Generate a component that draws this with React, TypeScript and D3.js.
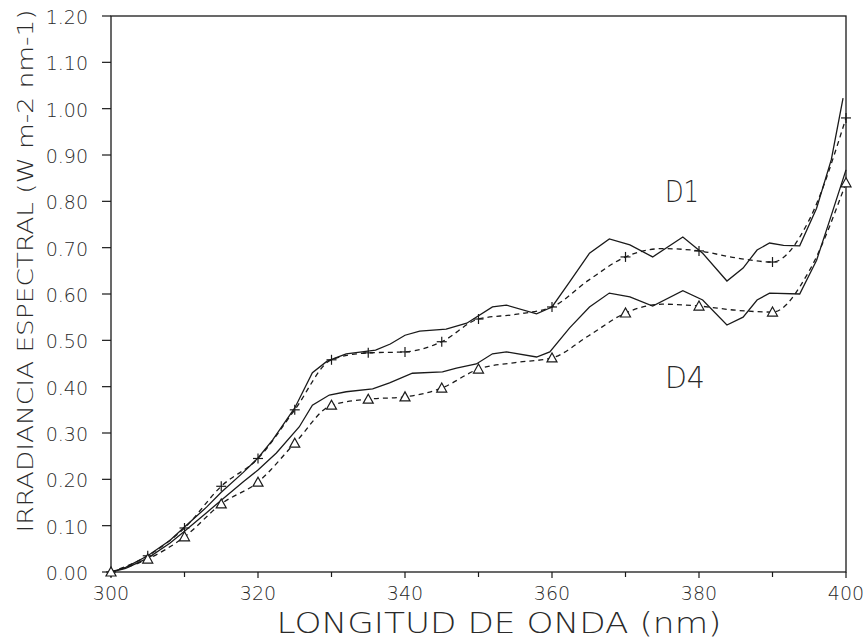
import React from "react";
import * as d3 from "d3";

// ---- data ----
const d1SolidNm = [300, 302, 305, 308, 310, 313, 315, 318, 320, 322, 325, 327.4, 329.4, 332, 336, 338, 340, 342, 345.6, 348.4, 351.9, 353.8, 357.9, 360, 362.4, 365.1, 367.8, 370.6, 373.7, 377.8, 380.5, 383.8, 386, 387.9, 389.6, 391.5, 393.7, 396, 398, 399.6];
const d1SolidVal = [0.0, 0.01, 0.035, 0.068, 0.097, 0.14, 0.172, 0.215, 0.246, 0.285, 0.354, 0.43, 0.455, 0.471, 0.479, 0.492, 0.511, 0.52, 0.524, 0.537, 0.572, 0.576, 0.557, 0.572, 0.626, 0.688, 0.719, 0.706, 0.68, 0.723, 0.688, 0.628, 0.656, 0.695, 0.71, 0.705, 0.704, 0.785, 0.89, 1.023];

const d4SolidNm = [300, 302, 305, 308, 310, 313, 315, 318, 320, 322.5, 325.6, 327.4, 329.7, 332, 335.6, 337.9, 341, 345.1, 347, 349.7, 351.9, 353.8, 357.9, 359.7, 362.4, 365.1, 367.8, 370.6, 373.7, 377.8, 380.5, 383.8, 386, 387.9, 389.6, 393.7, 396, 397.8, 400];
const d4SolidVal = [0.0, 0.008, 0.03, 0.062, 0.088, 0.128, 0.155, 0.195, 0.22, 0.257, 0.313, 0.36, 0.382, 0.389, 0.395, 0.408, 0.429, 0.432, 0.44, 0.449, 0.471, 0.475, 0.464, 0.475, 0.527, 0.572, 0.602, 0.594, 0.574, 0.607, 0.587, 0.533, 0.55, 0.587, 0.602, 0.6, 0.673, 0.76, 0.868];

const fitNm = [300, 305, 310, 315, 320, 325, 330, 335, 340, 345, 350, 355, 360, 365, 370, 375, 380, 385, 390, 395, 400];
const d1FitVal = [0.0, 0.035, 0.095, 0.185, 0.245, 0.35, 0.458, 0.473, 0.475, 0.497, 0.546, 0.556, 0.572, 0.63, 0.68, 0.698, 0.693, 0.678, 0.669, 0.76, 0.98];
const d4FitVal = [0.0, 0.028, 0.076, 0.147, 0.194, 0.278, 0.36, 0.373, 0.378, 0.397, 0.438, 0.452, 0.462, 0.51, 0.559, 0.578, 0.574, 0.565, 0.561, 0.65, 0.84];

const markerNm = [300, 305, 310, 315, 320, 325, 330, 335, 340, 345, 350, 360, 370, 380, 390, 400];

const xTicksMajor = [300, 320, 340, 360, 380, 400];
const xTicksMinor = [310, 330, 350, 370, 390];
const yTicks = [0, 0.1, 0.2, 0.3, 0.4, 0.5, 0.6, 0.7, 0.8, 0.9, 1.0, 1.1, 1.2];

const xTitle = "LONGITUD DE ONDA (nm)";
const yTitle = "IRRADIANCIA ESPECTRAL (W m-2 nm-1)";
const seriesLabels = [
  { name: "D1", nm: 377, val: 0.80 },
  { name: "D4", nm: 377, val: 0.40 },
];

const W = 868, H = 644;
const left = 111, right = 846, top = 16, bottom = 572;
const FONT = "'DejaVu Sans', 'Liberation Sans', sans-serif";
const INK = "#1a1a1a";

export default function App() {
  const x = d3.scaleLinear().domain([300, 400]).range([left, right]);
  const y = d3.scaleLinear().domain([0, 1.2]).range([bottom, top]);

  const solid = d3.line<[number, number]>().x(d => x(d[0])).y(d => y(d[1])).curve(d3.curveLinear);
  const smooth = d3.line<[number, number]>().x(d => x(d[0])).y(d => y(d[1])).curve(d3.curveMonotoneX);

  const zip = (a: number[], b: number[]) => a.map((v, i) => [v, b[i]] as [number, number]);
  const d1s = zip(d1SolidNm, d1SolidVal);
  const d4s = zip(d4SolidNm, d4SolidVal);
  const d1f = zip(fitNm, d1FitVal);
  const d4f = zip(fitNm, d4FitVal);
  const fitAt = (vals: number[], nm: number) => vals[fitNm.indexOf(nm)];

  return (
    <svg width={W} height={H} style={{ position: "fixed", left: 0, top: 0, background: "#fff" }} fontFamily={FONT}>
      <rect x={0} y={0} width={W} height={H} fill="#fff" />
      {/* frame */}
      <rect x={left} y={top} width={right - left} height={bottom - top} fill="none" stroke={INK} strokeWidth={1.3} />
      {/* y ticks */}
      {yTicks.map(t => (
        <g key={"y" + t}>
          <line x1={left - 9} x2={left} y1={y(t)} y2={y(t)} stroke={INK} strokeWidth={1.2} />
          <text x={88} y={y(t) + 8} textAnchor="end" fontSize={19} fill="#2a2a2a" fontWeight={300}>{t.toFixed(2)}</text>
        </g>
      ))}
      {/* x ticks */}
      {xTicksMajor.map(t => (
        <g key={"x" + t}>
          <line x1={x(t)} x2={x(t)} y1={bottom} y2={bottom + 6} stroke={INK} strokeWidth={1.2} />
          <text x={x(t)} y={600} textAnchor="middle" fontSize={19} fill="#2a2a2a" fontWeight={300}>{t}</text>
        </g>
      ))}
      {xTicksMinor.map(t => (
        <line key={"xm" + t} x1={x(t)} x2={x(t)} y1={bottom} y2={bottom + 5} stroke={INK} strokeWidth={1.2} />
      ))}
      {/* titles */}
      <text x={499} y={633} textAnchor="middle" fontSize={28} fill="#2a2a2a" fontWeight={300} textLength={445} lengthAdjust="spacingAndGlyphs">{xTitle}</text>
      <text transform={`translate(33,271) rotate(-90)`} textAnchor="middle" fontSize={22} fill="#2a2a2a" fontWeight={300} textLength={523} lengthAdjust="spacingAndGlyphs">{yTitle}</text>

      {/* lines */}
      <path d={solid(d1s) || ""} fill="none" stroke={INK} strokeWidth={1.3} />
      <path d={solid(d4s) || ""} fill="none" stroke={INK} strokeWidth={1.3} />
      <path d={smooth(d1f) || ""} fill="none" stroke={INK} strokeWidth={1.3} strokeDasharray="5,4" />
      <path d={smooth(d4f) || ""} fill="none" stroke={INK} strokeWidth={1.3} strokeDasharray="5,4" />

      {/* markers */}
      {markerNm.map(nm => {
        const cx = x(nm), cy = y(fitAt(d1FitVal, nm));
        return (
          <g key={"p" + nm} stroke={INK} strokeWidth={1.2}>
            <line x1={cx - 5} x2={cx + 5} y1={cy} y2={cy} />
            <line x1={cx} x2={cx} y1={cy - 5} y2={cy + 5} />
          </g>
        );
      })}
      {markerNm.map(nm => {
        const cx = x(nm), cy = y(fitAt(d4FitVal, nm));
        return (
          <path key={"t" + nm} d={`M${cx - 5},${cy + 4} L${cx + 5},${cy + 4} L${cx},${cy - 5} Z`} fill="#fff" stroke={INK} strokeWidth={1.2} />
        );
      })}

      {/* series labels */}
      {seriesLabels.map(s => (
        <text key={s.name} x={x(s.nm) - 12} y={y(s.val) + 1} fontSize={30} fill="#2a2a2a" fontWeight={300} textLength={s.name === "D1" ? 34 : 40} lengthAdjust="spacingAndGlyphs">{s.name}</text>
      ))}
    </svg>
  );
}
